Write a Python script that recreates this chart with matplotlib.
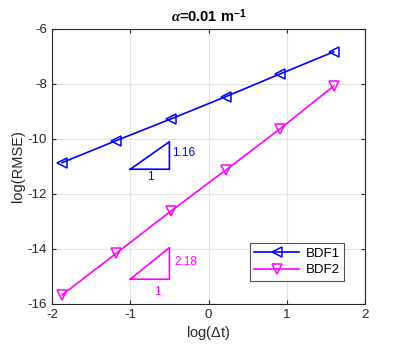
import matplotlib
matplotlib.use("Agg")
import matplotlib.pyplot as plt

plt.rcParams['font.family'] = ['Liberation Sans', 'DejaVu Sans']
plt.rcParams['axes.unicode_minus'] = False
plt.rcParams['mathtext.fontset'] = 'custom'
plt.rcParams['mathtext.rm'] = 'Liberation Sans'
plt.rcParams['mathtext.it'] = 'Liberation Serif:italic:bold'
plt.rcParams['mathtext.bf'] = 'Liberation Sans:bold'

log_dt = [-1.87, -1.18, -0.48, 0.22, 0.91, 1.60]
bdf1 = [-10.86, -10.06, -9.27, -8.46, -7.64, -6.83]
bdf2 = [-15.67, -14.16, -12.62, -11.13, -9.64, -8.07]
labels = ["BDF1", "BDF2"]
slopes = ["1.16", "2.18"]

fig = plt.figure(figsize=(4.03, 3.49), dpi=100)
ax = fig.add_axes([0.129, 0.129, 0.777, 0.788])

ax.plot(log_dt, bdf1, color=(0, 0, 1), lw=1.2, marker='<', ms=7, mfc='none', mew=1.1, label=labels[0])
ax.plot(log_dt, bdf2, color=(1, 0, 1), lw=1.2, marker='v', ms=7, mfc='none', mew=1.1, label=labels[1])

# slope triangles
ax.plot([-1.0, -0.5, -0.5, -1.0], [-11.1, -11.1, -10.1, -11.1], color=(0, 0, 1), lw=1.2)
ax.plot([-1.0, -0.5, -0.5, -1.0], [-15.1, -15.1, -13.95, -15.1], color=(1, 0, 1), lw=1.2)
ax.text(-0.46, -10.5, slopes[0], color=(0, 0, 1), fontsize=8.5, va='center', ha='left')
ax.text(-0.74, -11.37, "1", color=(0, 0, 1), fontsize=8.5, va='center', ha='center')
ax.text(-0.43, -14.48, slopes[1], color=(1, 0, 1), fontsize=8.5, va='center', ha='left')
ax.text(-0.65, -15.57, "1", color=(1, 0, 1), fontsize=8.5, va='center', ha='center')

ax.set_xlim(-2, 2)
ax.set_ylim(-16, -6)
ax.set_xticks([-2, -1, 0, 1, 2])
ax.set_yticks([-16, -14, -12, -10, -8, -6])
ax.grid(True, color='#e3e3e3', lw=0.8)
ax.set_axisbelow(True)
ax.tick_params(direction='in', length=3, labelsize=9.5, colors='#262626', top=True, right=True)
for s in ax.spines.values():
    s.set_color('#262626')
    s.set_linewidth(0.8)
ax.set_xlabel(r'log($\Delta$t)', fontsize=10.5, color='#262626', labelpad=2)
ax.set_ylabel('log(RMSE)', fontsize=10.5, color='#262626', labelpad=2)
ax.set_title(r'$\alpha$=0.01 m$^{\mathbf{-1}}$', fontsize=10.5, fontweight='bold', pad=5)

leg = ax.legend(loc='lower right', bbox_to_anchor=(0.955, 0.06), fontsize=9.5, frameon=True,
                fancybox=False, edgecolor='#262626', handlelength=3.4, borderpad=0.35, labelspacing=0.3,
                handletextpad=0.5)
leg.get_frame().set_linewidth(0.8)

fig.savefig("out.png", dpi=100)
